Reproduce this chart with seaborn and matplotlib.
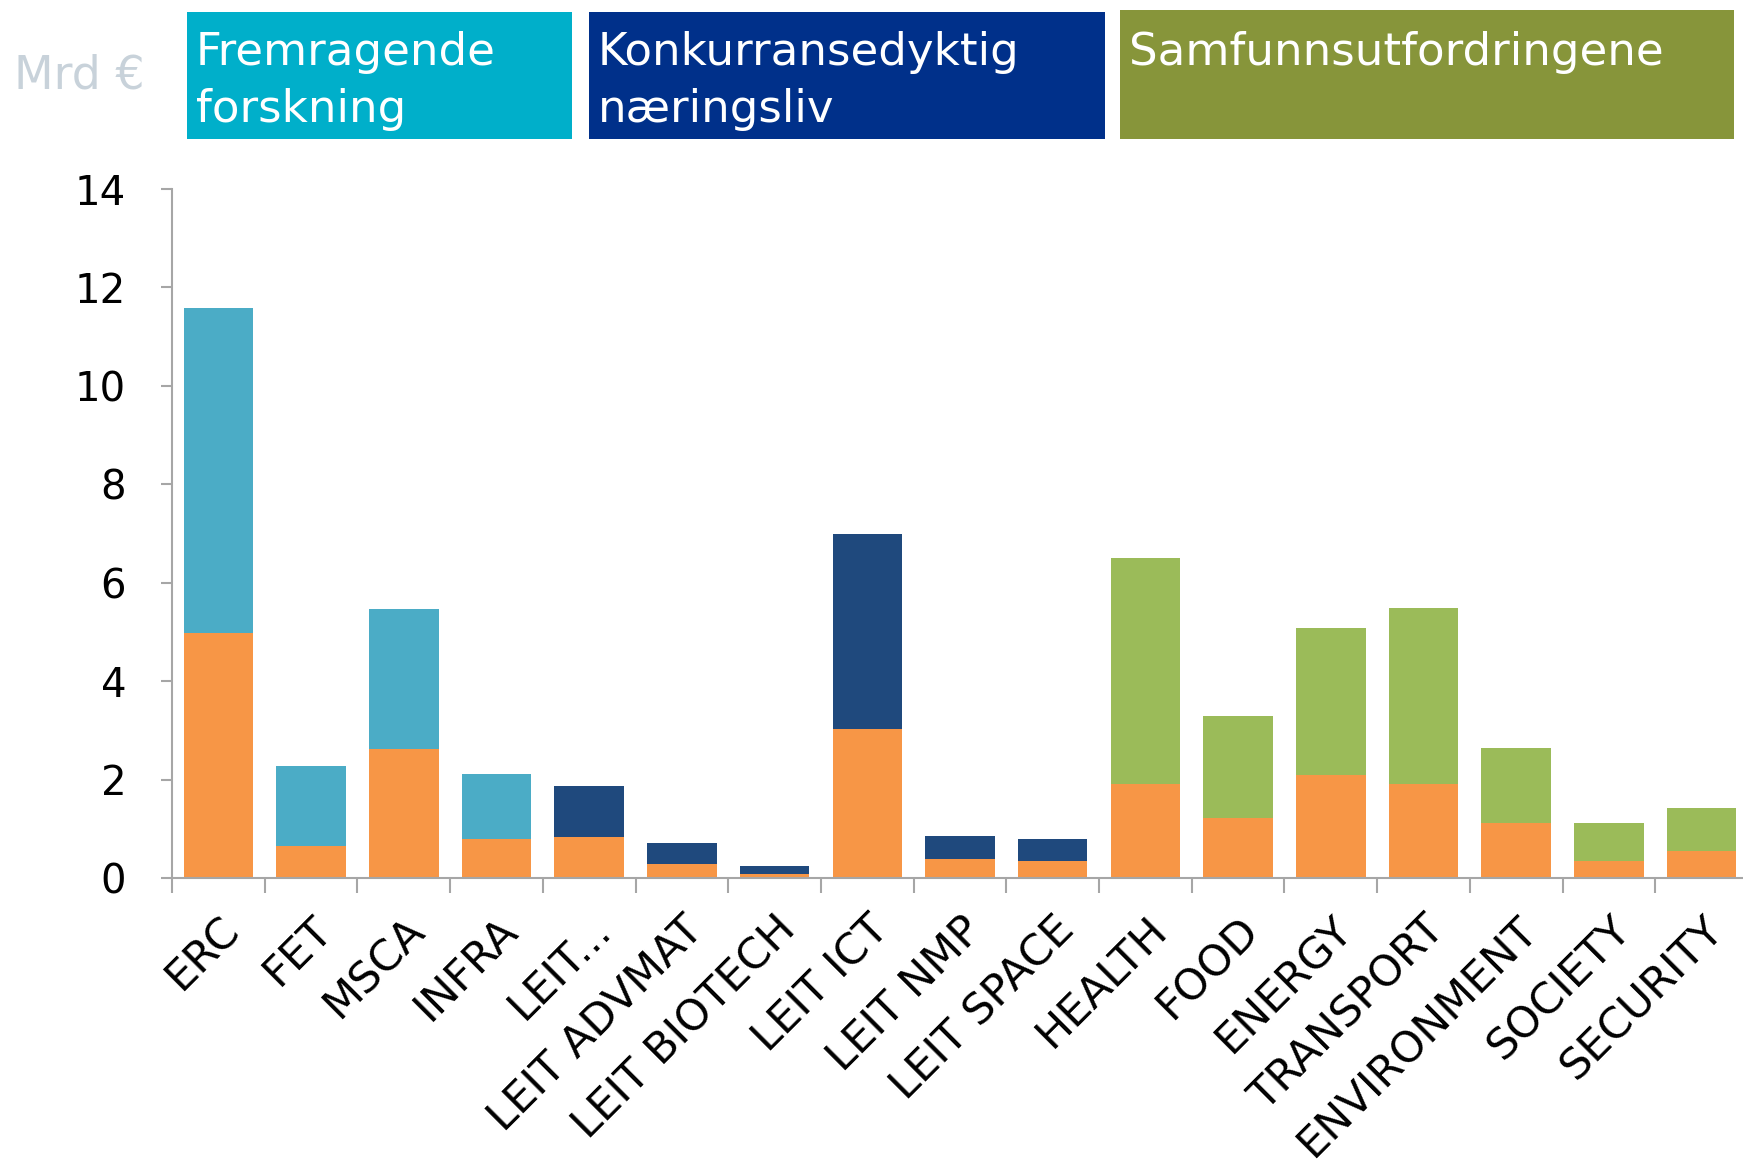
import matplotlib
matplotlib.use("Agg")
import matplotlib.pyplot as plt
import seaborn as sns
import numpy as np
import pandas as pd
from matplotlib.patches import Rectangle

categories = ["ERC", "FET", "MSCA", "INFRA", "LEIT...", "LEIT ADVMAT", "LEIT BIOTECH",
              "LEIT ICT", "LEIT NMP", "LEIT SPACE", "HEALTH", "FOOD", "ENERGY",
              "TRANSPORT", "ENVIRONMENT", "SOCIETY", "SECURITY"]
totals = [11.58, 2.28, 5.46, 2.12, 1.87, 0.72, 0.25, 7.0, 0.86, 0.79,
          6.5, 3.3, 5.08, 5.49, 2.64, 1.11, 1.42]
orange_part = [4.97, 0.65, 2.62, 0.79, 0.84, 0.29, 0.09, 3.03, 0.38, 0.34,
               1.92, 1.22, 2.1, 1.92, 1.11, 0.34, 0.54]
groups = ["exc"] * 4 + ["ind"] * 6 + ["soc"] * 7
group_colors = {"exc": "#4BACC6", "ind": "#1F497D", "soc": "#9BBB59"}
orange = "#F79646"

headers = ["Fremragende\nforskning", "Konkurransedyktig\nnæringsliv", "Samfunnsutfordringene"]
header_colors = ["#00AFCA", "#00308A", "#87953A"]
ylabel_text = "Mrd €"
yticks = [0, 2, 4, 6, 8, 10, 12, 14]

sns.set_style("white")
plt.rcParams['font.family'] = ['DejaVu Sans']

W, H = 1743, 1172
fig = plt.figure(figsize=(W / 100, H / 100), dpi=100)
ax = fig.add_axes([172 / W, 1 - 878 / H, 1576 / W, (878 - 189) / H])

df = pd.DataFrame({"cat": categories, "total": totals, "orange": orange_part, "group": groups})
palette = [group_colors[g] for g in groups]
sns.barplot(data=df, x="cat", y="total", hue="cat", palette=palette, legend=False,
            width=0.75, ax=ax, linewidth=0, saturation=1)
sns.barplot(data=df, x="cat", y="orange", color=orange, width=0.75, ax=ax,
            linewidth=0, saturation=1)

ax.set_xlim(-0.5, len(categories) - 0.5)
ax.set_ylim(0, 14)
ax.set_yticks(yticks)
ax.set_xlabel("")
ax.set_ylabel("")
for s in ["top", "right"]:
    ax.spines[s].set_visible(False)
for s in ["left", "bottom"]:
    ax.spines[s].set_color("#A6A6A6")
    ax.spines[s].set_linewidth(1.5)

ax.tick_params(axis="y", direction="out", length=8, width=1.5, color="#A6A6A6",
               labelsize=29, pad=25, left=True, labelcolor="black")
ax.set_xticks(np.arange(len(categories)))
ax.set_xticklabels(categories, rotation=45, ha="right", rotation_mode="anchor",
                   fontsize=31, color="black")
ax.tick_params(axis="x", length=0, pad=22)
ax.set_xticks(np.arange(len(categories) + 1) - 0.5, minor=True)
ax.tick_params(axis="x", which="minor", direction="out", length=11, width=1.5,
               color="#A6A6A6", bottom=True)

# header boxes
boxes = [(187, 572, 12), (589, 1105, 12), (1120, 1734, 10)]
for (x0, x1, ytop), label, col in zip(boxes, headers, header_colors):
    fig.patches.append(Rectangle((x0 / W, 1 - 139 / H), (x1 - x0) / W, (139 - ytop) / H,
                                 transform=fig.transFigure, facecolor=col,
                                 edgecolor="none", zorder=1))
    fig.text((x0 + 9) / W, 1 - 31 / H, label, color="white", fontsize=32.5,
             ha="left", va="top", linespacing=1.4, zorder=2)

fig.text(14 / W, 1 - 76 / H, ylabel_text, color="#C8D2DA", fontsize=33,
         ha="left", va="center")

fig.savefig("out.png", dpi=100)
